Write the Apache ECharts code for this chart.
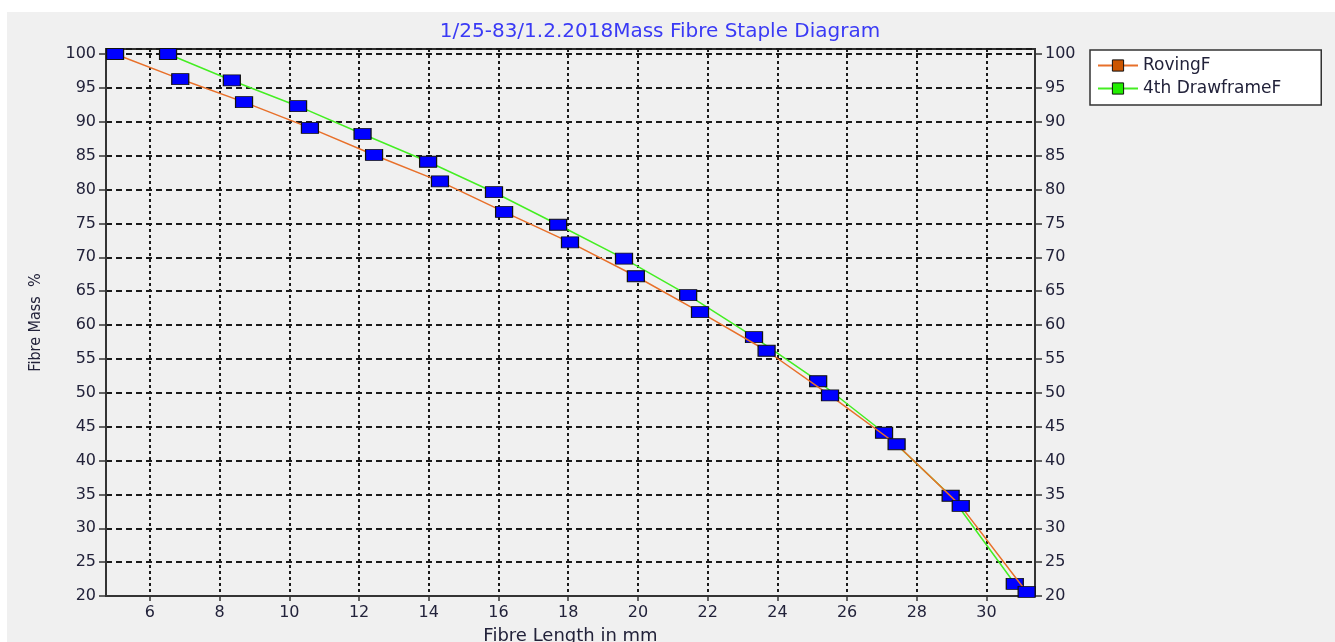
<!DOCTYPE html>
<html>
<head>
<meta charset="utf-8">
<script src="https://cdn.jsdelivr.net/npm/echarts@6/dist/echarts.min.js"></script>
<style>
html,body{margin:0;padding:0;background:#ffffff;}
#chart{width:1335px;height:642px;}
</style>
</head>
<body>
<div id="chart"></div>
<script>
const titleText = '1/25-83/1.2.2018Mass Fibre Staple Diagram';
const xAxisName = 'Fibre Length in mm';
const yAxisName = 'Fibre Mass  %';
const seriesNames = ['RovingF', '4th DrawframeF'];
const xTicks = [6, 8, 10, 12, 14, 16, 18, 20, 22, 24, 26, 28, 30];

const rovingX = [5.0, 6.87, 8.70, 10.59, 12.43, 14.32, 16.16, 18.05, 19.94, 21.78, 23.69, 25.51, 27.42, 29.26, 31.15];
const rovingY = [100, 96.3, 92.9, 89.1, 85.1, 81.2, 76.7, 72.2, 67.2, 61.9, 56.2, 49.6, 42.4, 33.3, 20.6];
const drawX = [6.52, 8.35, 10.25, 12.10, 13.98, 15.87, 17.71, 19.60, 21.44, 23.33, 25.17, 27.06, 28.97, 30.81];
const drawY = [100, 96.1, 92.3, 88.2, 84.1, 79.6, 74.8, 69.8, 64.4, 58.2, 51.7, 44.1, 34.8, 21.8];

const zip = (xs, ys) => xs.map((x, i) => [x, ys[i]]);
const font = 'DejaVu Sans';
const narrow = '"DejaVu Sans Condensed", "Liberation Sans Narrow", "Noto Sans", sans-serif';
const labelColor = '#22223a';

const chart = echarts.init(document.getElementById('chart'), null, {renderer: 'canvas'});
const axisY = (pos) => ({
  type: 'value', position: pos, min: 20, max: 100.74, interval: 5,
  axisLine: {show: true, lineStyle: {color: '#333', width: 2}},
  axisTick: {show: true, length: 7, lineStyle: {color: '#333', width: 1.5}},
  axisLabel: {color: labelColor, fontFamily: font, fontSize: 16, margin: 10, showMaxLabel: false},
  splitLine: {show: pos === 'left', lineStyle: {color: '#1a1a1a', width: 2, type: [6, 4]}}
});
const y0 = axisY('left');
y0.name = yAxisName;
y0.nameLocation = 'middle';
y0.nameGap = 62;
y0.nameTextStyle = {color: labelColor, fontFamily: narrow, fontSize: 16};
const y1 = axisY('right');

chart.setOption({
  animation: false,
  backgroundColor: 'transparent',
  graphic: [{type: 'rect', z: -100, shape: {x: 7, y: 12, width: 1328, height: 630}, style: {fill: '#f0f0f0'}}],
  title: {
    text: titleText, left: 655, top: 17, textAlign: 'center',
    textStyle: {color: '#3a3af5', fontFamily: font, fontSize: 20, fontWeight: 'normal'}
  },
  legend: {
    left: 1090, top: 50, orient: 'vertical',
    padding: [7, 40, 8, 7], itemGap: 6, itemWidth: 40, itemHeight: 14,
    backgroundColor: '#ffffff', borderColor: '#333', borderWidth: 1.5,
    textStyle: {color: labelColor, fontFamily: font, fontSize: 17},
    data: [
      {name: seriesNames[0], itemStyle: {color: '#cc5500', borderColor: '#111', borderWidth: 1}},
      {name: seriesNames[1], itemStyle: {color: '#22ee00', borderColor: '#111', borderWidth: 1}}
    ]
  },
  grid: {left: 106, right: 300, top: 49, bottom: 46, containLabel: false, outerBoundsMode: 'none',
         show: true, borderColor: '#333', borderWidth: 2, backgroundColor: 'transparent'},
  xAxis: {
    type: 'value', min: 4.74, max: 31.39,
    name: xAxisName, nameLocation: 'middle', nameGap: 31,
    nameTextStyle: {color: labelColor, fontFamily: font, fontSize: 18},
    axisLine: {show: true, lineStyle: {color: '#333', width: 2}},
    axisTick: {show: true, length: 5, customValues: xTicks, lineStyle: {color: '#333', width: 1.5}},
    axisLabel: {color: labelColor, fontFamily: font, fontSize: 16, margin: 9, customValues: xTicks},
    splitLine: {show: true, lineStyle: {color: '#1a1a1a', width: 2, type: [3, 3]}}
  },
  yAxis: [y0, y1],
  series: [
    {
      name: seriesNames[0], type: 'line', data: zip(rovingX, rovingY),
      symbol: 'rect', symbolSize: [17, 11], showAllSymbol: true, z: 3,
      lineStyle: {color: '#e8702a', width: 1.5},
      itemStyle: {color: '#0000ff', borderColor: '#111', borderWidth: 1}
    },
    {
      name: seriesNames[1], type: 'line', data: zip(drawX, drawY),
      symbol: 'rect', symbolSize: [17, 11], showAllSymbol: true, z: 2,
      lineStyle: {color: '#44ee22', width: 1.5},
      itemStyle: {color: '#0000ff', borderColor: '#111', borderWidth: 1}
    }
  ]
});
</script>
</body>
</html>
